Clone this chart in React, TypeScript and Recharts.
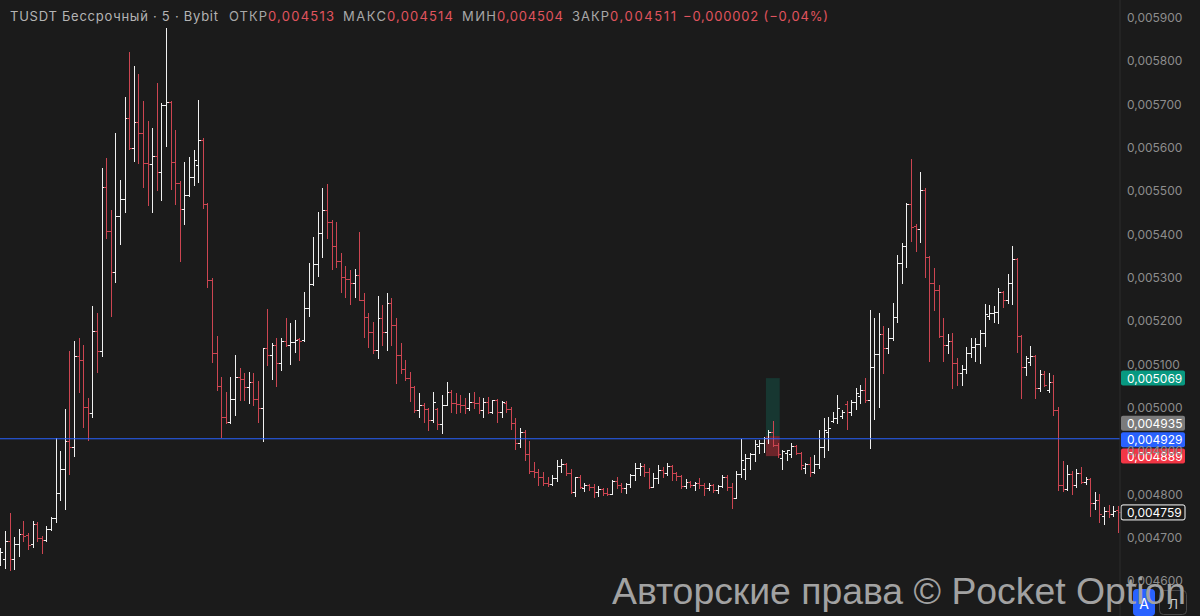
import React from 'react'
import {
    ComposedChart,
    Bar,
    XAxis,
    YAxis,
    ReferenceLine,
    ReferenceArea
} from 'recharts'

// TUSDT perpetual, 5m bars (Bybit) – prices
const opens = [
    0.004644, 0.004651, 0.004693, 0.004651, 0.004686, 0.004709, 0.004707, 0.004686, 0.004732, 0.004700, 0.004695, 0.004721,
    0.004746, 0.004804, 0.004859, 0.004924, 0.004910, 0.005120, 0.005111, 0.005002, 0.004988, 0.005178, 0.005131, 0.005510,
    0.005408, 0.005314, 0.005443, 0.005482, 0.005669, 0.005600, 0.005660, 0.005635, 0.005565, 0.005563, 0.005581, 0.005544,
    0.005699, 0.005706, 0.005568, 0.005519, 0.005459, 0.005491, 0.005533, 0.005561, 0.005618, 0.005471, 0.005295, 0.005127,
    0.005051, 0.004979, 0.004968, 0.005021, 0.005071, 0.005067, 0.005048, 0.005060, 0.005021, 0.005000, 0.005138, 0.005122,
    0.005145, 0.005104, 0.005155, 0.005145, 0.005152, 0.005159, 0.005157, 0.005231, 0.005286, 0.005332, 0.005404, 0.005457,
    0.005429, 0.005374, 0.005339, 0.005302, 0.005298, 0.005288, 0.005307, 0.005249, 0.005210, 0.005175, 0.005134, 0.005208,
    0.005175, 0.005242, 0.005191, 0.005122, 0.005090, 0.005069, 0.005048, 0.004995, 0.005007, 0.004998, 0.004972, 0.004998,
    0.004963, 0.005007, 0.005037, 0.005011, 0.005009, 0.005007, 0.005000, 0.005014, 0.005011, 0.004995, 0.005014, 0.004991,
    0.005018, 0.004991, 0.005011, 0.004998, 0.004965, 0.004919, 0.004944, 0.004894, 0.004854, 0.004852, 0.004841, 0.004827,
    0.004824, 0.004838, 0.004866, 0.004871, 0.004850, 0.004806, 0.004841, 0.004815, 0.004822, 0.004818, 0.004806, 0.004813,
    0.004804, 0.004801, 0.004831, 0.004822, 0.004815, 0.004824, 0.004845, 0.004861, 0.004866, 0.004852, 0.004818, 0.004838,
    0.004857, 0.004850, 0.004866, 0.004850, 0.004843, 0.004820, 0.004829, 0.004822, 0.004827, 0.004822, 0.004815, 0.004822,
    0.004811, 0.004820, 0.004841, 0.004818, 0.004792, 0.004848, 0.004859, 0.004885, 0.004894, 0.004912, 0.004919, 0.004931,
    0.004944, 0.004914, 0.004885, 0.004896, 0.004894, 0.004912, 0.004896, 0.004861, 0.004871, 0.004852, 0.004871, 0.004910,
    0.004944, 0.004970, 0.004977, 0.004982, 0.005009, 0.004991, 0.005014, 0.005028, 0.005041, 0.005018, 0.005095, 0.005125,
    0.005171, 0.005138, 0.005161, 0.005210, 0.005335, 0.005374, 0.005471, 0.005420, 0.005413, 0.005503, 0.005348, 0.005288,
    0.005272, 0.005166, 0.005145, 0.005155, 0.005104, 0.005081, 0.005090, 0.005127, 0.005141, 0.005148, 0.005173, 0.005212,
    0.005219, 0.005222, 0.005268, 0.005249, 0.005288, 0.005344, 0.005166, 0.005095, 0.005106, 0.005120, 0.005046, 0.005078,
    0.005041, 0.005060, 0.004995, 0.004822, 0.004813, 0.004848, 0.004822, 0.004850, 0.004829, 0.004836, 0.004781, 0.004788,
    0.004751, 0.004762, 0.004755, 0.004764
]

const highs = [
    0.004677, 0.004716, 0.004758, 0.004702, 0.004721, 0.004739, 0.004711, 0.004739, 0.004737, 0.004705, 0.004728, 0.004748,
    0.004931, 0.004901, 0.004998, 0.005131, 0.005155, 0.005161, 0.005145, 0.005023, 0.005235, 0.005219, 0.005554, 0.005577,
    0.005457, 0.005635, 0.005526, 0.005718, 0.005822, 0.005789, 0.005771, 0.005708, 0.005662, 0.005646, 0.005750, 0.005704,
    0.005877, 0.005708, 0.005642, 0.005524, 0.005568, 0.005579, 0.005595, 0.005711, 0.005623, 0.005473, 0.005300, 0.005166,
    0.005071, 0.005037, 0.005071, 0.005122, 0.005092, 0.005081, 0.005083, 0.005081, 0.005062, 0.005138, 0.005228, 0.005150,
    0.005161, 0.005161, 0.005208, 0.005196, 0.005203, 0.005161, 0.005268, 0.005335, 0.005395, 0.005452, 0.005508, 0.005517,
    0.005434, 0.005429, 0.005358, 0.005328, 0.005318, 0.005321, 0.005406, 0.005265, 0.005219, 0.005198, 0.005258, 0.005238,
    0.005265, 0.005254, 0.005208, 0.005150, 0.005111, 0.005083, 0.005051, 0.005035, 0.005011, 0.005000, 0.005037, 0.005000,
    0.005030, 0.005060, 0.005041, 0.005035, 0.005030, 0.005023, 0.005035, 0.005037, 0.005025, 0.005023, 0.005025, 0.005018,
    0.005021, 0.005016, 0.005016, 0.005002, 0.004977, 0.004954, 0.004949, 0.004924, 0.004875, 0.004859, 0.004852, 0.004841,
    0.004845, 0.004880, 0.004882, 0.004873, 0.004859, 0.004841, 0.004845, 0.004827, 0.004824, 0.004824, 0.004820, 0.004815,
    0.004815, 0.004834, 0.004841, 0.004827, 0.004827, 0.004848, 0.004873, 0.004873, 0.004871, 0.004861, 0.004850, 0.004868,
    0.004864, 0.004873, 0.004868, 0.004852, 0.004845, 0.004836, 0.004831, 0.004829, 0.004838, 0.004827, 0.004827, 0.004824,
    0.004822, 0.004845, 0.004845, 0.004827, 0.004854, 0.004928, 0.004894, 0.004896, 0.004926, 0.004926, 0.004933, 0.004949,
    0.004970, 0.004919, 0.004903, 0.004903, 0.004919, 0.004914, 0.004898, 0.004873, 0.004887, 0.004891, 0.004949, 0.004977,
    0.004979, 0.004991, 0.005030, 0.004995, 0.005016, 0.005018, 0.005046, 0.005053, 0.005069, 0.005226, 0.005208, 0.005219,
    0.005189, 0.005185, 0.005242, 0.005353, 0.005381, 0.005473, 0.005575, 0.005425, 0.005545, 0.005508, 0.005351, 0.005323,
    0.005284, 0.005208, 0.005171, 0.005173, 0.005115, 0.005099, 0.005141, 0.005161, 0.005161, 0.005180, 0.005240, 0.005238,
    0.005235, 0.005277, 0.005270, 0.005309, 0.005374, 0.005346, 0.005169, 0.005120, 0.005143, 0.005122, 0.005088, 0.005085,
    0.005081, 0.005076, 0.005002, 0.004878, 0.004868, 0.004855, 0.004859, 0.004864, 0.004841, 0.004838, 0.004806, 0.004801,
    0.004771, 0.004776, 0.004774, 0.004774
]

const lows = [
    0.004638, 0.004631, 0.004626, 0.004628, 0.004658, 0.004693, 0.004674, 0.004679, 0.004693, 0.004665, 0.004693, 0.004718,
    0.004737, 0.004788, 0.004767, 0.004848, 0.004889, 0.005037, 0.004956, 0.004926, 0.004979, 0.005083, 0.005120, 0.005392,
    0.005212, 0.005291, 0.005378, 0.005452, 0.005598, 0.005570, 0.005565, 0.005510, 0.005468, 0.005452, 0.005503, 0.005480,
    0.005605, 0.005505, 0.005471, 0.005339, 0.005425, 0.005489, 0.005514, 0.005521, 0.005461, 0.005279, 0.005106, 0.005041,
    0.004933, 0.004965, 0.004965, 0.004984, 0.005018, 0.005018, 0.005011, 0.005007, 0.004968, 0.004924, 0.005099, 0.005067,
    0.005051, 0.005088, 0.005143, 0.005102, 0.005129, 0.005111, 0.005155, 0.005212, 0.005284, 0.005305, 0.005348, 0.005392,
    0.005321, 0.005325, 0.005268, 0.005256, 0.005240, 0.005256, 0.005249, 0.005164, 0.005141, 0.005127, 0.005115, 0.005145,
    0.005134, 0.005145, 0.005058, 0.005081, 0.005065, 0.005016, 0.004991, 0.004979, 0.004968, 0.004949, 0.004968, 0.004951,
    0.004942, 0.005007, 0.004991, 0.004988, 0.004991, 0.004988, 0.004995, 0.005000, 0.004988, 0.004979, 0.004988, 0.004988,
    0.004968, 0.004979, 0.004991, 0.004951, 0.004905, 0.004910, 0.004880, 0.004850, 0.004841, 0.004822, 0.004822, 0.004820,
    0.004822, 0.004831, 0.004852, 0.004845, 0.004804, 0.004797, 0.004815, 0.004808, 0.004811, 0.004795, 0.004797, 0.004799,
    0.004799, 0.004801, 0.004815, 0.004806, 0.004804, 0.004818, 0.004834, 0.004845, 0.004843, 0.004815, 0.004818, 0.004827,
    0.004841, 0.004845, 0.004834, 0.004834, 0.004815, 0.004815, 0.004818, 0.004811, 0.004815, 0.004799, 0.004811, 0.004806,
    0.004804, 0.004818, 0.004811, 0.004769, 0.004792, 0.004841, 0.004836, 0.004859, 0.004878, 0.004896, 0.004898, 0.004919,
    0.004912, 0.004887, 0.004859, 0.004880, 0.004887, 0.004894, 0.004859, 0.004850, 0.004843, 0.004850, 0.004862, 0.004887,
    0.004903, 0.004968, 0.004965, 0.004977, 0.004951, 0.004984, 0.004998, 0.005011, 0.005014, 0.004908, 0.004975, 0.005002,
    0.005081, 0.005127, 0.005157, 0.005198, 0.005288, 0.005325, 0.005385, 0.005362, 0.005383, 0.005302, 0.005108, 0.005226,
    0.005164, 0.005108, 0.005127, 0.005046, 0.005053, 0.005053, 0.005081, 0.005118, 0.005108, 0.005104, 0.005143, 0.005205,
    0.005198, 0.005196, 0.005233, 0.005242, 0.005240, 0.005129, 0.005023, 0.005076, 0.005099, 0.005023, 0.005039, 0.005051,
    0.005037, 0.004984, 0.004811, 0.004808, 0.004811, 0.004801, 0.004818, 0.004827, 0.004824, 0.004751, 0.004767, 0.004737,
    0.004732, 0.004748, 0.004751, 0.004714
]

const closes = [
    0.004668, 0.004693, 0.004651, 0.004686, 0.004709, 0.004705, 0.004684, 0.004732, 0.004700, 0.004695, 0.004721, 0.004746,
    0.004804, 0.004859, 0.004924, 0.004910, 0.005120, 0.005111, 0.005002, 0.004988, 0.005178, 0.005131, 0.005510, 0.005408,
    0.005314, 0.005443, 0.005482, 0.005669, 0.005600, 0.005660, 0.005635, 0.005565, 0.005563, 0.005581, 0.005544, 0.005699,
    0.005706, 0.005568, 0.005519, 0.005459, 0.005491, 0.005533, 0.005572, 0.005618, 0.005471, 0.005295, 0.005127, 0.005051,
    0.004979, 0.004968, 0.005021, 0.005071, 0.005067, 0.005048, 0.005060, 0.005021, 0.005000, 0.005138, 0.005122, 0.005145,
    0.005104, 0.005155, 0.005145, 0.005152, 0.005157, 0.005155, 0.005231, 0.005286, 0.005332, 0.005404, 0.005457, 0.005429,
    0.005374, 0.005339, 0.005302, 0.005298, 0.005288, 0.005307, 0.005249, 0.005210, 0.005175, 0.005134, 0.005208, 0.005175,
    0.005242, 0.005191, 0.005122, 0.005090, 0.005069, 0.005048, 0.004995, 0.005007, 0.004998, 0.004972, 0.005014, 0.004963,
    0.005007, 0.005037, 0.005011, 0.005009, 0.005007, 0.005000, 0.005014, 0.005011, 0.004995, 0.005014, 0.004991, 0.005018,
    0.004991, 0.005014, 0.004998, 0.004965, 0.004919, 0.004944, 0.004894, 0.004854, 0.004852, 0.004841, 0.004827, 0.004824,
    0.004838, 0.004866, 0.004871, 0.004850, 0.004806, 0.004841, 0.004818, 0.004822, 0.004818, 0.004806, 0.004813, 0.004804,
    0.004801, 0.004831, 0.004822, 0.004815, 0.004824, 0.004845, 0.004861, 0.004866, 0.004852, 0.004818, 0.004838, 0.004857,
    0.004850, 0.004866, 0.004850, 0.004843, 0.004820, 0.004829, 0.004822, 0.004827, 0.004822, 0.004815, 0.004822, 0.004811,
    0.004820, 0.004841, 0.004818, 0.004792, 0.004848, 0.004880, 0.004885, 0.004894, 0.004917, 0.004919, 0.004931, 0.004944,
    0.004914, 0.004894, 0.004901, 0.004903, 0.004912, 0.004896, 0.004868, 0.004871, 0.004852, 0.004871, 0.004910, 0.004949,
    0.004954, 0.004977, 0.005000, 0.004991, 0.004991, 0.005014, 0.005035, 0.005041, 0.005018, 0.005095, 0.005125, 0.005171,
    0.005138, 0.005161, 0.005210, 0.005335, 0.005374, 0.005471, 0.005418, 0.005413, 0.005503, 0.005348, 0.005288, 0.005272,
    0.005166, 0.005145, 0.005155, 0.005104, 0.005081, 0.005090, 0.005127, 0.005141, 0.005148, 0.005173, 0.005217, 0.005219,
    0.005222, 0.005268, 0.005249, 0.005288, 0.005344, 0.005166, 0.005095, 0.005115, 0.005120, 0.005046, 0.005078, 0.005053,
    0.005060, 0.004995, 0.004822, 0.004813, 0.004848, 0.004822, 0.004850, 0.004829, 0.004836, 0.004781, 0.004788, 0.004755,
    0.004762, 0.004755, 0.004762, 0.004759
]

const priceTicks = [
    0.0046, 0.0047, 0.0048, 0.0049, 0.005, 0.0051, 0.0052,
    0.0053, 0.0054, 0.0055, 0.0056, 0.0057, 0.0058, 0.0059
]

// horizontal line + long position tool
const linePrice = 0.004929
const lastPrice = 0.004759
const targetPrice = 0.005069
const entryPrice = 0.004935
const stopPrice = 0.004889
const positionFrom = 167
const positionTo = 169

const headerTitle = 'TUSDT Бессрочный · 5 · Bybit'
const headerOhlc = [
    { label: 'ОТКР', value: '0,004513' },
    { label: 'МАКС', value: '0,004514' },
    { label: 'МИН', value: '0,004504' },
    { label: 'ЗАКР', value: '0,004511' }
]
const headerChange = '−0,000002 (−0,04%)'

const FONT = "Inter, 'Noto Sans', sans-serif"
const BG = '#1b1b1b'
const UP = '#f0f0f0'
const DOWN = '#cc4551'
const AXIS_TEXT = '#8d8d8d'

const data = opens.map((o, i) => ({
    t: i,
    open: o,
    high: highs[i],
    low: lows[i],
    close: closes[i],
    range: [lows[i], highs[i]]
}))

const fmt = (v: number) => v.toFixed(6).replace('.', ',')

const OhlcBar = (props: any) => {
    const { x, y, width, height, payload } = props
    if (!payload) return null
    const top = Math.min(y, y + height)
    const bottom = Math.max(y, y + height)
    const span = payload.high - payload.low
    const toY = (v: number) => (span ? top + ((payload.high - v) / span) * (bottom - top) : top)
    const cx = Math.round(x + width / 2) + 0.5
    const oy = Math.round(toY(payload.open)) + 0.5
    const cy = Math.round(toY(payload.close)) + 0.5
    const color = payload.close >= payload.open ? UP : DOWN
    return (
        <g stroke={color} strokeWidth={1} shapeRendering="crispEdges">
            <line x1={cx} x2={cx} y1={Math.round(top)} y2={Math.round(bottom) + 1} />
            <line x1={cx - 2.5} x2={cx} y1={oy} y2={oy} />
            <line x1={cx} x2={cx + 2.5} y1={cy} y2={cy} />
        </g>
    )
}

const PriceTag = (props: any) => {
    const { viewBox, text, bg, border, shift = 0 } = props
    if (!viewBox) return null
    const x = viewBox.x + viewBox.width + 1
    const y = viewBox.y + shift
    return (
        <g>
            <rect x={x} y={y - 7.5} width={64} height={15} rx={2} fill={bg} stroke={border || 'none'} />
            <text x={x + 6} y={y + 4.5} fill="#ffffff" fontSize={12} fontFamily={FONT}>{text}</text>
        </g>
    )
}

const AxisTick = (props: any) => {
    const { x, y, payload } = props
    return (
        <text x={x} y={y + 4} fill={AXIS_TEXT} fontSize={12} fontFamily={FONT} textAnchor="start">
            {fmt(payload.value)}
        </text>
    )
}

export default function App() {
    return (
        <div style={{ position: 'absolute', left: 0, top: 0, width: 1200, height: 616, background: BG, overflow: 'hidden' }}>
            <ComposedChart
                width={1200}
                height={616}
                data={data}
                margin={{ top: 0, right: 0, bottom: 0, left: -2 }}
                barCategoryGap="10%"
            >
                <XAxis dataKey="t" hide />
                <YAxis
                    orientation="right"
                    width={80}
                    domain={[0.00452, 0.0059415]}
                    allowDataOverflow
                    ticks={priceTicks}
                    interval={0}
                    tickLine={false}
                    tickSize={0}
                    tickMargin={7}
                    axisLine={{ stroke: '#2c2c2c' }}
                    tick={<AxisTick />}
                />
                <ReferenceArea
                    x1={positionFrom}
                    x2={positionTo}
                    y1={entryPrice}
                    y2={targetPrice}
                    fill="#089981"
                    fillOpacity={0.22}
                    stroke="none"
                />
                <ReferenceArea
                    x1={positionFrom}
                    x2={positionTo}
                    y1={stopPrice}
                    y2={entryPrice}
                    fill="#f23645"
                    fillOpacity={0.38}
                    stroke="none"
                />
                <Bar dataKey="range" shape={<OhlcBar />} isAnimationActive={false} />
                <ReferenceLine y={linePrice} stroke="#2962ff" strokeWidth={1} />
                <ReferenceLine y={targetPrice} strokeOpacity={0} label={<PriceTag text={fmt(targetPrice)} bg="#089981" />} />
                <ReferenceLine y={entryPrice} strokeOpacity={0} label={<PriceTag text={fmt(entryPrice)} bg="#7b7b7b" shift={-13} />} />
                <ReferenceLine y={linePrice} strokeOpacity={0} label={<PriceTag text={fmt(linePrice)} bg="#2962ff" shift={1} />} />
                <ReferenceLine y={stopPrice} strokeOpacity={0} label={<PriceTag text={fmt(stopPrice)} bg="#f23645" />} />
                <ReferenceLine y={lastPrice} strokeOpacity={0} label={<PriceTag text={fmt(lastPrice)} bg={BG} border="#ffffff" />} />
            </ComposedChart>

            <svg width={1200} height={616} style={{ position: 'absolute', left: 0, top: 0, pointerEvents: 'none' }}>
                <g fontFamily={FONT} fontSize={13}>
                    <text x={10} y={21} fill="#b4b4b4" textLength={208}>{headerTitle}</text>
                    {headerOhlc.map((h, i) => {
                        const starts = [229, 343, 462, 572]
                        const labelW = [38, 43, 34, 37]
                        const x = starts[i]
                        return (
                            <g key={h.label}>
                                <text x={x} y={21} fill="#a8a8a8" textLength={labelW[i]}>{h.label}</text>
                                <text x={x + labelW[i] + 1} y={21} fill="#e0545e" textLength={66}>{h.value}</text>
                            </g>
                        )
                    })}
                    <text x={683} y={21} fill="#e0545e" textLength={145}>{headerChange}</text>
                </g>

                <rect x={1133} y={589} width={22} height={27} rx={4} fill="#2962ff" />
                <text x={1144} y={609} fill="#ffffff" fontSize={14} fontFamily={FONT} textAnchor="middle">А</text>
                <rect x={1159.5} y={590.5} width={27} height={24} rx={4} fill="none" stroke="#4a4a4a" />
                <text x={1173} y={609} fill="#cfcfcf" fontSize={13} fontFamily={FONT} textAnchor="middle">Л</text>

                <text
                    x={612}
                    y={604}
                    fill="#a2a2a2"
                    fontSize={37}
                    fontFamily="'Liberation Sans', Arial, sans-serif"
                    textLength={574}
                    lengthAdjust="spacingAndGlyphs"
                >
                    Авторские права © Pocket Option
                </text>
            </svg>
        </div>
    )
}
